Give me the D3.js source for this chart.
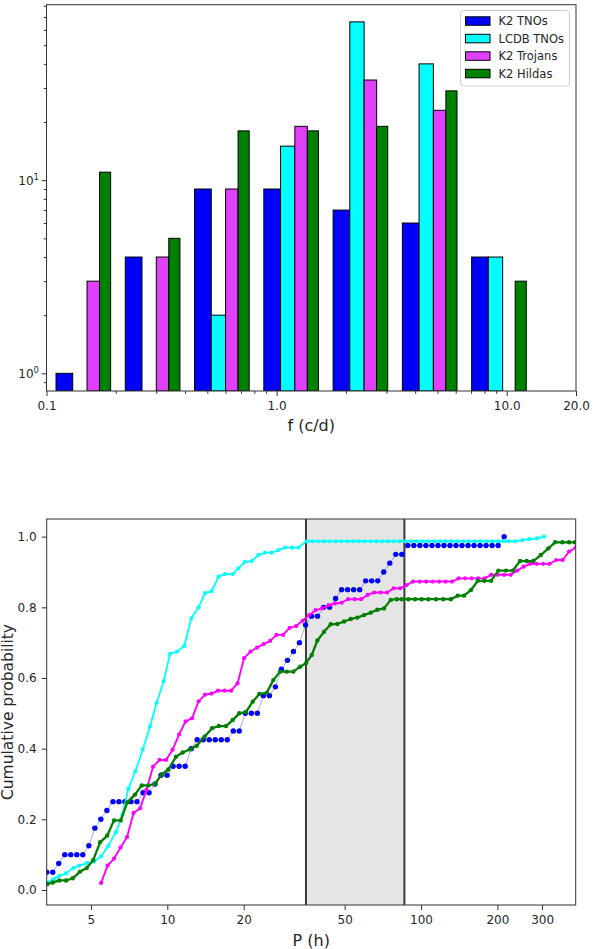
<!DOCTYPE html>
<html>
<head>
<meta charset="utf-8">
<script src="https://cdn.jsdelivr.net/npm/d3@7"></script>
<style>
  html, body { margin: 0; padding: 0; background: #fff; }
  svg { display: block; font-family: "DejaVu Sans", sans-serif; }
</style>
</head>
<body>
<svg id="fig" width="604" height="949"></svg>
<script>
// ---------- Histogram of rotation frequencies (log-spaced bins) ----------
const seriesNames = ["K2 TNOs", "LCDB TNOs", "K2 Trojans", "K2 Hildas"];
const binEdges = [0.1, 0.2, 0.4, 0.8, 1.6, 3.2, 6.4, 12.8];
const k2TnoCounts    = [1, 4, 9, 9, 7, 6, 4];
const lcdbTnoCounts  = [0, 0, 2, 15, 66, 40, 4];
const k2TrojanCounts = [3, 4, 9, 19, 33, 23, 0];
const k2HildaCounts  = [11, 5, 18, 18, 19, 29, 3];

const freqTicks = [0.1, 1, 10, 20];
const freqTickLabels = ["0.1", "1.0", "10.0", "20.0"];
const freqMinorTicks = [0.2, 0.3, 0.4, 0.5, 0.6, 0.7, 0.8, 0.9, 2, 3, 4, 5, 6, 7, 8, 9];
const countTicks = [1, 10];
const countTickExponents = ["0", "1"];
const countMinorTicks = [0.9, 2, 3, 4, 5, 6, 7, 8, 9, 20, 30, 40, 50, 60, 70, 80];

// ---------- Cumulative period distributions ----------
const k2TnoPeriod = [3.347, 3.535, 3.733, 3.943, 4.164, 4.398, 4.645, 4.906, 5.181, 5.472,
  5.779, 6.104, 6.447, 6.808, 7.191, 7.594, 8.021, 8.471, 8.947, 9.449,
  9.980, 10.54, 11.13, 11.76, 12.42, 13.11, 13.85, 14.63, 15.45, 16.32,
  17.23, 18.20, 19.22, 20.30, 21.44, 22.64, 23.91, 25.26, 26.67, 28.17,
  29.75, 31.42, 33.19, 35.05, 37.02, 39.09, 41.29, 43.61, 46.05, 48.64,
  51.37, 54.25, 57.30, 60.52, 63.91, 67.50, 71.29, 75.29, 79.52, 83.98,
  88.70, 93.68, 98.93, 104.5, 110.4, 116.6, 123.1, 130.0, 137.3, 145.0,
  153.2, 161.8, 170.9, 180.4, 190.6, 201.3, 212.6];
const k2TnoCum = [0.05, 0.05, 0.075, 0.1, 0.1, 0.1, 0.1, 0.125, 0.175, 0.2,
  0.225, 0.25, 0.25, 0.25, 0.25, 0.25, 0.275, 0.275, 0.3, 0.325,
  0.325, 0.35, 0.35, 0.35, 0.4, 0.425, 0.425, 0.425, 0.425, 0.425,
  0.425, 0.45, 0.45, 0.5, 0.5, 0.5, 0.55, 0.55, 0.575, 0.625,
  0.65, 0.675, 0.7, 0.75, 0.775, 0.775, 0.8, 0.8, 0.825, 0.85,
  0.85, 0.85, 0.85, 0.875, 0.875, 0.875, 0.9, 0.925, 0.95, 0.95,
  0.975, 0.975, 0.975, 0.975, 0.975, 0.975, 0.975, 0.975, 0.975, 0.975,
  0.975, 0.975, 0.975, 0.975, 0.975, 0.975, 1.0];

const lcdbTnoPeriod = [3.347, 3.553, 3.753, 3.988, 4.262, 4.500, 4.812, 5.141, 5.482, 5.854,
  6.260, 6.659, 7.019, 7.479, 8.000, 8.547, 9.082, 9.679, 10.25, 10.94,
  11.67, 12.43, 13.29, 14.08, 14.96, 15.93, 16.88, 18.10, 19.05, 20.24,
  21.51, 22.85, 24.27, 25.79, 27.39, 29.10, 30.93, 32.84,
  35.43, 37.35, 39.37, 41.49, 43.74, 46.10, 48.59, 51.22, 53.99, 56.91,
  59.98, 63.22, 66.64, 70.24, 74.04, 78.04, 82.26, 86.70, 91.39, 96.33,
  101.5, 107.0, 112.8, 118.9, 125.3, 132.1, 139.2, 146.8, 154.7, 163.1,
  171.9, 181.2, 191.0, 201.3,
  211.4, 220.9, 234.8, 250.8, 267.3, 285.8, 305.3];
const lcdbTnoCum = [0.021, 0.030, 0.040, 0.047, 0.062, 0.069, 0.076, 0.080, 0.095, 0.125,
  0.163, 0.213, 0.286, 0.336, 0.397, 0.463, 0.530, 0.591, 0.668, 0.675,
  0.691, 0.769, 0.800, 0.840, 0.846, 0.887, 0.894, 0.894, 0.910, 0.929,
  0.931, 0.948, 0.955, 0.955, 0.962, 0.969, 0.969, 0.969,
  0.987, 0.987, 0.987, 0.987, 0.987, 0.987, 0.987, 0.987, 0.987, 0.987,
  0.987, 0.987, 0.987, 0.987, 0.987, 0.987, 0.987, 0.987, 0.987, 0.987,
  0.987, 0.987, 0.987, 0.987, 0.987, 0.987, 0.987, 0.987, 0.987, 0.987,
  0.987, 0.987, 0.987, 0.987,
  0.987, 0.987, 0.987, 0.990, 0.993, 0.995, 1.0];

const k2TrojanPeriod = [5.482, 5.815, 6.169, 6.543, 6.941, 7.363, 7.810, 8.285, 8.788, 9.322,
  9.889, 10.49, 11.13, 11.80, 12.52, 13.28, 14.09, 14.94, 15.85, 16.82,
  17.84, 18.92, 20.07, 21.29, 22.59, 23.96, 25.42, 26.96, 28.60, 30.34,
  32.18, 34.14, 36.21, 38.41, 40.75, 43.22, 45.85, 48.64, 51.59, 54.73,
  58.06, 61.58, 65.33, 69.30, 73.51, 77.98, 82.71, 87.74, 93.07, 98.73,
  104.7, 111.1, 117.9, 125.0, 132.6, 140.7, 149.2, 158.3, 167.9, 178.1,
  189.0, 200.4, 212.6, 225.6, 239.3, 253.8, 269.2, 285.6, 303.0, 321.4,
  340.9, 361.6, 383.6, 407.0];
const k2TrojanCum = [0.02, 0.069, 0.089, 0.12, 0.15, 0.218, 0.231, 0.284, 0.349, 0.368,
  0.368, 0.397, 0.44, 0.477, 0.486, 0.534, 0.553, 0.556, 0.564, 0.564,
  0.564, 0.585, 0.656, 0.675, 0.686, 0.696, 0.705, 0.722, 0.722, 0.742,
  0.747, 0.762, 0.778, 0.792, 0.797, 0.806, 0.811, 0.813, 0.823, 0.823,
  0.823, 0.835, 0.842, 0.842, 0.842, 0.854, 0.854, 0.863, 0.873, 0.873,
  0.873, 0.873, 0.873, 0.873, 0.873, 0.882, 0.882, 0.882, 0.882, 0.882,
  0.892, 0.892, 0.892, 0.892, 0.904, 0.915, 0.923, 0.923, 0.923, 0.923,
  0.934, 0.934, 0.958, 0.969];

const k2HildaPeriod = [3.365, 3.534, 3.753, 3.988, 4.238, 4.529, 4.812, 5.109, 5.432, 5.801,
  6.165, 6.551, 6.955, 7.459, 7.928, 8.417, 8.943, 9.503, 10.09, 10.82,
  11.50, 12.29, 13.06, 14.02, 15.01, 15.96, 17.03, 18.10, 19.22, 20.43,
  21.71, 23.05, 24.65, 26.17, 27.81, 29.55, 31.38, 33.36, 35.21, 37.09,
  39.02, 41.47, 44.07, 46.79, 49.72, 52.84, 56.10, 59.61, 63.35, 67.26,
  71.47, 75.95, 80.20, 83.92, 89.13, 94.71, 100.6, 106.9, 114.6, 122.4,
  131.0, 139.5, 147.7, 157.4, 167.3, 177.6, 188.8, 201.7, 216.3, 229.9,
  245.6, 261.0, 277.1, 296.4, 317.6, 337.5, 360.6, 383.2, 404.6];
const k2HildaCum = [0.017, 0.021, 0.027, 0.027, 0.033, 0.052, 0.062, 0.085, 0.135, 0.154,
  0.197, 0.197, 0.248, 0.27, 0.296, 0.296, 0.30, 0.327, 0.341, 0.377,
  0.389, 0.398, 0.408, 0.434, 0.458, 0.464, 0.464, 0.481, 0.50, 0.504,
  0.533, 0.555, 0.558, 0.594, 0.618, 0.618, 0.618, 0.632, 0.642, 0.665,
  0.706, 0.731, 0.752, 0.753, 0.76, 0.767, 0.771, 0.778, 0.785, 0.793,
  0.797, 0.821, 0.823, 0.823, 0.823, 0.823, 0.823, 0.823, 0.823, 0.823,
  0.823, 0.833, 0.833, 0.849, 0.875, 0.875, 0.875, 0.904, 0.904, 0.904,
  0.931, 0.931, 0.931, 0.948, 0.967, 0.984, 0.984, 0.984, 0.984];

const periodWindow = [35.2, 86];   // shaded period range (h)
const periodTicks = [5, 10, 20, 50, 100, 200, 300];
const probTicks = [0, 0.2, 0.4, 0.6, 0.8, 1.0];

// ---------- styling ----------
const histColors = ["#0000ff", "#00ffff", "#e040fb", "#008000"];
const ink = "#262626";
const spine = "#333333";

const svg = d3.select("#fig");
const defs = svg.append("defs");

function styleAxis(g, fontSize) {
  g.select(".domain").remove();
  g.selectAll(".tick line").attr("stroke", spine).attr("stroke-width", 1);
  g.selectAll(".tick text")
    .attr("fill", ink)
    .style("font-size", fontSize + "px")
    .style("font-family", '"DejaVu Sans", sans-serif');
}

// ================= Panel 1: frequency histogram =================
const P1 = { x0: 46.5, x1: 576, y0: 4.7, y1: 391 };
const xF = d3.scaleLog().domain([0.1, 20]).range([P1.x0, P1.x1]);
const yN = d3.scaleLog().domain([0.81, 81]).range([P1.y1, P1.y0]);

defs.append("clipPath").attr("id", "clip1").append("rect")
  .attr("x", P1.x0).attr("y", P1.y0)
  .attr("width", P1.x1 - P1.x0).attr("height", P1.y1 - P1.y0);

const gBars = svg.append("g").attr("clip-path", "url(#clip1)");
const countSets = [k2TnoCounts, lcdbTnoCounts, k2TrojanCounts, k2HildaCounts];
countSets.forEach((counts, j) => {
  counts.forEach((c, i) => {
    if (c <= 0) return;
    const a = binEdges[i], w = binEdges[i + 1] - a;
    const left = a + w * 0.1 + j * w * 0.2;
    const right = left + w * 0.2;
    gBars.append("rect")
      .attr("x", xF(left)).attr("y", yN(c))
      .attr("width", xF(right) - xF(left))
      .attr("height", P1.y1 - yN(c))
      .attr("fill", histColors[j])
      .attr("stroke", "#000").attr("stroke-width", 1);
  });
});

// x axis
svg.append("g").attr("transform", `translate(0,${P1.y1})`)
  .call(d3.axisBottom(xF).tickValues(freqMinorTicks).tickFormat("").tickSize(2.8))
  .call(g => styleAxis(g, 12));
svg.append("g").attr("transform", `translate(0,${P1.y1})`)
  .call(d3.axisBottom(xF).tickValues(freqTicks)
    .tickFormat((d, i) => freqTickLabels[i]).tickSize(5).tickPadding(5))
  .call(g => styleAxis(g, 12));

// y axis
svg.append("g").attr("transform", `translate(${P1.x0},0)`)
  .call(d3.axisLeft(yN).tickValues(countMinorTicks).tickFormat("").tickSize(2.8))
  .call(g => styleAxis(g, 12));
svg.append("g").attr("transform", `translate(${P1.x0},0)`)
  .call(d3.axisLeft(yN).tickValues(countTicks).tickFormat("").tickSize(5))
  .call(g => styleAxis(g, 12));
countTicks.forEach((v, i) => {
  const t = svg.append("text")
    .attr("x", P1.x0 - 7.5).attr("y", yN(v) + 4.5)
    .attr("text-anchor", "end").attr("fill", ink)
    .style("font-size", "12px");
  t.append("tspan").text("10");
  t.append("tspan").attr("dy", -5).style("font-size", "8.5px").text(countTickExponents[i]);
});

svg.append("rect")
  .attr("x", P1.x0).attr("y", P1.y0)
  .attr("width", P1.x1 - P1.x0).attr("height", P1.y1 - P1.y0)
  .attr("fill", "none").attr("stroke", spine).attr("stroke-width", 1);

svg.append("text")
  .attr("x", (P1.x0 + P1.x1) / 2).attr("y", 431)
  .attr("text-anchor", "middle").attr("fill", ink)
  .style("font-size", "16px").text("f (c/d)");

// legend
const lg = svg.append("g");
lg.append("rect").attr("x", 460.5).attr("y", 10.5).attr("width", 109).attr("height", 75.5)
  .attr("rx", 3).attr("fill", "#fff").attr("fill-opacity", 0.8)
  .attr("stroke", "#cccccc").attr("stroke-width", 1);
seriesNames.forEach((name, i) => {
  const cy = 21 + i * 17.5;
  lg.append("rect").attr("x", 465.5).attr("y", cy - 4.2).attr("width", 24.5).attr("height", 8.5)
    .attr("fill", histColors[i]).attr("stroke", "#000").attr("stroke-width", 1);
  lg.append("text").attr("x", 498.5).attr("y", cy + 4.2)
    .attr("fill", ink).style("font-size", "11.5px").text(name);
});

// ================= Panel 2: cumulative period distributions =================
const P2 = { x0: 46.7, x1: 575.7, y0: 519, y1: 905 };
const xP = d3.scaleLog().domain([3.347, 407]).range([P2.x0, P2.x1]);
const yC = d3.scaleLinear().domain([-0.0425, 1.05]).range([P2.y1, P2.y0]);

defs.append("clipPath").attr("id", "clip2").append("rect")
  .attr("x", P2.x0).attr("y", P2.y0)
  .attr("width", P2.x1 - P2.x0).attr("height", P2.y1 - P2.y0);

const g2 = svg.append("g").attr("clip-path", "url(#clip2)");

// shaded period window
g2.append("rect")
  .attr("x", xP(periodWindow[0])).attr("y", P2.y0)
  .attr("width", xP(periodWindow[1]) - xP(periodWindow[0]))
  .attr("height", P2.y1 - P2.y0)
  .attr("fill", "#e5e5e5");
periodWindow.forEach(p => {
  g2.append("line")
    .attr("x1", xP(p)).attr("x2", xP(p))
    .attr("y1", P2.y0).attr("y2", P2.y1)
    .attr("stroke", "#3a3a3a").attr("stroke-width", 2);
});

const curves = [
  { P: k2TnoPeriod, C: k2TnoCum, line: "#0000ff", lineOpacity: 0.35, lw: 1, dot: "#0000ff", r: 2.7 },
  { P: lcdbTnoPeriod, C: lcdbTnoCum, line: "#00ffff", lineOpacity: 1, lw: 1.8, dot: "#00ffff", r: 2.1 },
  { P: k2TrojanPeriod, C: k2TrojanCum, line: "#ff00ff", lineOpacity: 1, lw: 1.9, dot: "#ff00ff", r: 2.1 },
  { P: k2HildaPeriod, C: k2HildaCum, line: "#008000", lineOpacity: 1, lw: 2.3, dot: "#008000", r: 2.2 }
];
const lineGen = d3.line().x(d => xP(d[0])).y(d => yC(d[1]));
curves.forEach(c => {
  const pts = c.P.map((p, i) => [p, c.C[i]]);
  g2.append("path").datum(pts)
    .attr("d", lineGen)
    .attr("fill", "none")
    .attr("stroke", c.line).attr("stroke-opacity", c.lineOpacity)
    .attr("stroke-width", c.lw).attr("stroke-linejoin", "round");
  g2.append("g").selectAll("circle").data(pts).join("circle")
    .attr("cx", d => xP(d[0])).attr("cy", d => yC(d[1]))
    .attr("r", c.r).attr("fill", c.dot);
});

svg.append("g").attr("transform", `translate(0,${P2.y1})`)
  .call(d3.axisBottom(xP).tickValues(periodTicks).tickFormat(d3.format("d")).tickSize(5).tickPadding(5))
  .call(g => styleAxis(g, 12));
svg.append("g").attr("transform", `translate(${P2.x0},0)`)
  .call(d3.axisLeft(yC).tickValues(probTicks).tickFormat(d3.format(".1f")).tickSize(5).tickPadding(5))
  .call(g => styleAxis(g, 12));

svg.append("rect")
  .attr("x", P2.x0).attr("y", P2.y0)
  .attr("width", P2.x1 - P2.x0).attr("height", P2.y1 - P2.y0)
  .attr("fill", "none").attr("stroke", spine).attr("stroke-width", 1);

svg.append("text")
  .attr("x", (P2.x0 + P2.x1) / 2).attr("y", 945.5)
  .attr("text-anchor", "middle").attr("fill", ink)
  .style("font-size", "16px").text("P (h)");
svg.append("text")
  .attr("transform", `translate(12.5,${(P2.y0 + P2.y1) / 2}) rotate(-90)`)
  .attr("text-anchor", "middle").attr("fill", ink)
  .style("font-size", "15.5px").text("Cumulative probability");
</script>
</body>
</html>
